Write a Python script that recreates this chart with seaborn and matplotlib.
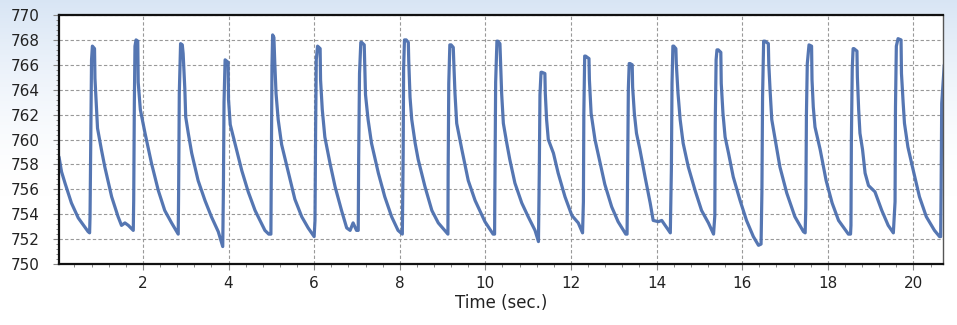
import matplotlib
matplotlib.use("Agg")

import matplotlib.pyplot as plt
import matplotlib.ticker as mticker
import seaborn as sns
import numpy as np
import pandas as pd

# pressure trace, one line per beat
time_s = [
    0.04, 0.10, 0.18, 0.33, 0.49, 0.72,
    0.755, 0.765, 0.785, 0.80, 0.82, 0.87, 0.88, 0.915, 0.94, 1.03, 1.11, 1.27, 1.42, 1.50, 1.58, 1.66, 1.775,
    1.785, 1.80, 1.815, 1.84, 1.88, 1.89, 1.94, 2.05, 2.20, 2.36, 2.51, 2.67, 2.81,
    2.825, 2.835, 2.85, 2.88, 2.92, 2.94, 2.98, 3.00, 3.06, 3.14, 3.29, 3.45, 3.60, 3.76, 3.865,
    3.88, 3.895, 3.92, 3.99, 4.00, 4.04, 4.15, 4.31, 4.46, 4.62, 4.85, 4.94,
    4.99, 5.00, 5.015, 5.03, 5.06, 5.08, 5.11, 5.16, 5.24, 5.41, 5.55, 5.71, 5.86, 6.00,
    6.02, 6.035, 6.05, 6.08, 6.14, 6.15, 6.19, 6.25, 6.37, 6.49, 6.64, 6.76, 6.84, 6.91, 6.99,
    7.03, 7.04, 7.06, 7.09, 7.11, 7.17, 7.18, 7.20, 7.26, 7.34, 7.50, 7.65, 7.81, 7.96, 8.06,
    8.08, 8.09, 8.11, 8.15, 8.20, 8.21, 8.24, 8.28, 8.36, 8.43, 8.59, 8.75, 8.90, 9.10,
    9.125, 9.13, 9.145, 9.17, 9.20, 9.25, 9.26, 9.29, 9.33, 9.45, 9.60, 9.76, 9.99, 10.18,
    10.215, 10.225, 10.24, 10.27, 10.29, 10.34, 10.35, 10.38, 10.42, 10.50, 10.57, 10.69, 10.85, 11.00, 11.16, 11.24,
    11.26, 11.275, 11.30, 11.32, 11.39, 11.40, 11.43, 11.47, 11.59, 11.70, 11.86, 12.02, 12.17, 12.27,
    12.29, 12.30, 12.32, 12.34, 12.42, 12.43, 12.47, 12.56, 12.68, 12.79, 12.95, 13.10, 13.28, 13.31,
    13.325, 13.34, 13.36, 13.38, 13.43, 13.44, 13.48, 13.53, 13.61, 13.73, 13.85, 13.92, 14.04, 14.12, 14.24, 14.32,
    14.345, 14.36, 14.38, 14.40, 14.45, 14.46, 14.50, 14.55, 14.62, 14.74, 14.90, 15.05, 15.21, 15.33,
    15.36, 15.37, 15.39, 15.41, 15.44, 15.50, 15.51, 15.55, 15.60, 15.68, 15.79, 15.95, 16.10, 16.26, 16.38, 16.44,
    16.46, 16.475, 16.50, 16.53, 16.61, 16.62, 16.65, 16.69, 16.77, 16.88, 17.04, 17.23, 17.43, 17.47,
    17.485, 17.50, 17.52, 17.56, 17.62, 17.63, 17.66, 17.70, 17.82, 17.96, 18.10, 18.25, 18.48, 18.53,
    18.54, 18.55, 18.57, 18.59, 18.61, 18.68, 18.69, 18.72, 18.75, 18.81, 18.87, 18.95, 19.10, 19.26, 19.41, 19.53,
    19.57, 19.58, 19.60, 19.64, 19.71, 19.72, 19.76, 19.79, 19.87, 19.99, 20.14, 20.30, 20.49, 20.61, 20.635,
    20.645, 20.66, 20.72,
]
pressure = [
    758.6, 757.4, 756.5, 754.9, 753.7, 752.6,
    752.5, 753.8, 760.6, 766.4, 767.5, 767.3, 764.9, 762.5, 760.9, 759.2, 757.8, 755.4, 753.8, 753.1, 753.3, 753.1, 752.7,
    755.1, 762.9, 767.5, 768.0, 767.9, 764.6, 762.4, 760.5, 758.1, 755.9, 754.3, 753.3, 752.5,
    752.4, 756.1, 763.7, 767.7, 767.6, 766.9, 764.0, 761.8, 760.5, 758.9, 756.7, 755.1, 753.8, 752.6, 751.4,
    755.9, 763.0, 766.4, 766.2, 763.2, 761.2, 759.7, 757.5, 755.8, 754.3, 752.7, 752.4,
    752.4, 758.4, 765.9, 768.4, 768.2, 766.2, 763.7, 761.6, 759.6, 757.2, 755.2, 753.8, 752.9, 752.2,
    753.5, 760.9, 766.4, 767.5, 767.3, 764.8, 762.4, 760.2, 758.1, 756.2, 754.3, 752.9, 752.7, 753.3, 752.7,
    752.7, 758.4, 765.3, 767.8, 767.8, 767.6, 766.3, 763.6, 761.6, 759.7, 757.3, 755.4, 753.8, 752.7, 752.4,
    758.9, 765.7, 768.0, 768.0, 767.8, 766.3, 763.4, 761.6, 759.7, 758.4, 756.2, 754.3, 753.3, 752.5,
    752.4, 757.3, 764.5, 767.6, 767.6, 767.4, 766.4, 763.7, 761.3, 759.2, 756.7, 755.1, 753.4, 752.4,
    752.4, 757.3, 764.6, 767.9, 767.9, 767.7, 766.7, 763.7, 761.3, 759.7, 758.4, 756.5, 754.9, 753.8, 752.7, 751.8,
    757.6, 763.6, 765.4, 765.4, 765.3, 763.7, 761.6, 760.0, 758.9, 757.3, 755.4, 753.9, 753.3, 752.5,
    755.0, 762.1, 766.7, 766.7, 766.5, 764.8, 762.1, 760.0, 758.1, 756.4, 754.6, 753.4, 752.4, 752.4,
    758.2, 764.1, 766.1, 766.1, 766.0, 764.2, 762.1, 760.5, 759.2, 757.0, 754.9, 753.5, 753.4, 753.5, 752.9, 752.5,
    757.6, 764.5, 767.5, 767.5, 767.3, 766.1, 763.7, 761.6, 759.7, 757.8, 755.9, 754.3, 753.3, 752.4,
    753.9, 761.3, 766.4, 767.2, 767.2, 767.0, 764.5, 762.1, 760.2, 758.9, 757.0, 755.1, 753.5, 752.2, 751.5, 751.6,
    755.8, 763.4, 767.9, 767.9, 767.7, 766.1, 764.0, 761.6, 760.0, 757.8, 755.7, 753.8, 752.6, 752.5,
    754.5, 762.1, 766.1, 767.6, 767.5, 764.8, 762.6, 761.0, 759.2, 756.7, 754.9, 753.5, 752.4, 752.4,
    753.1, 760.0, 765.7, 767.3, 767.3, 767.1, 765.0, 762.4, 760.5, 759.2, 757.3, 756.3, 755.8, 754.3, 753.1, 752.5,
    755.0, 762.6, 767.5, 768.1, 768.0, 765.3, 762.9, 761.3, 759.4, 757.6, 755.4, 753.8, 752.7, 752.2, 752.2,
    755.7, 762.9, 766.0,
]
x_ticks = [2, 4, 6, 8, 10, 12, 14, 16, 18, 20]
y_ticks = [750, 752, 754, 756, 758, 760, 762, 764, 766, 768, 770]

sns.set_theme(style="white")
plt.rcParams["font.family"] = ["DejaVu Sans"]

fig = plt.figure(figsize=(9.57, 3.25), dpi=100)
fig.patch.set_facecolor("white")

# pale blue wash along the top of the frame
bg = fig.add_axes([0, 0, 1, 1], zorder=-1)
h = np.linspace(0, 1, 200)[:, None]
fade = np.clip(1 - h / 0.6, 0, 1) ** 1.6
top = np.array([0.85, 0.90, 0.96])
img = np.ones((200, 2, 3)) * (1 - fade[..., None]) + top * fade[..., None]
bg.imshow(img, aspect="auto", extent=[0, 1, 0, 1])
bg.set_axis_off()

ax = fig.add_axes([59 / 957, 1 - 264 / 325, 884 / 957, 249 / 325])
ax.set_facecolor("white")

df = pd.DataFrame({"t": time_s, "p": pressure})
sns.lineplot(data=df, x="t", y="p", ax=ax, estimator=None, sort=False,
             color="#4C6FAE", linewidth=2.3, alpha=0.95)

ax.set_xlim(0.04, 20.69)
ax.set_ylim(750, 770)
ax.set_xticks(x_ticks)
ax.set_yticks(y_ticks)
ax.xaxis.set_minor_locator(mticker.MultipleLocator(0.4))
ax.yaxis.set_minor_locator(mticker.MultipleLocator(0.4))

ax.grid(True, which="major", color="#999999", linestyle=(0, (3, 2)), linewidth=0.8)
ax.tick_params(axis="both", which="major", direction="out", length=4, width=0.8,
               color="#888888", labelsize=11, labelcolor="#222222", bottom=True, left=True)
ax.tick_params(axis="both", which="minor", direction="out", length=2.5, width=0.7,
               color="#888888", bottom=True, left=True)
ax.tick_params(axis="x", which="major", pad=5)
ax.tick_params(axis="y", which="major", pad=10)

for side in ["left", "bottom", "top"]:
    ax.spines[side].set_color("#111111")
    ax.spines[side].set_linewidth(1.6)
ax.spines["right"].set_color("#555555")
ax.spines["right"].set_linewidth(1.0)

ax.set_xlabel("Time (sec.)", fontsize=12, color="#222222", labelpad=2)
ax.set_ylabel("")

fig.savefig("out.png", dpi=100)
